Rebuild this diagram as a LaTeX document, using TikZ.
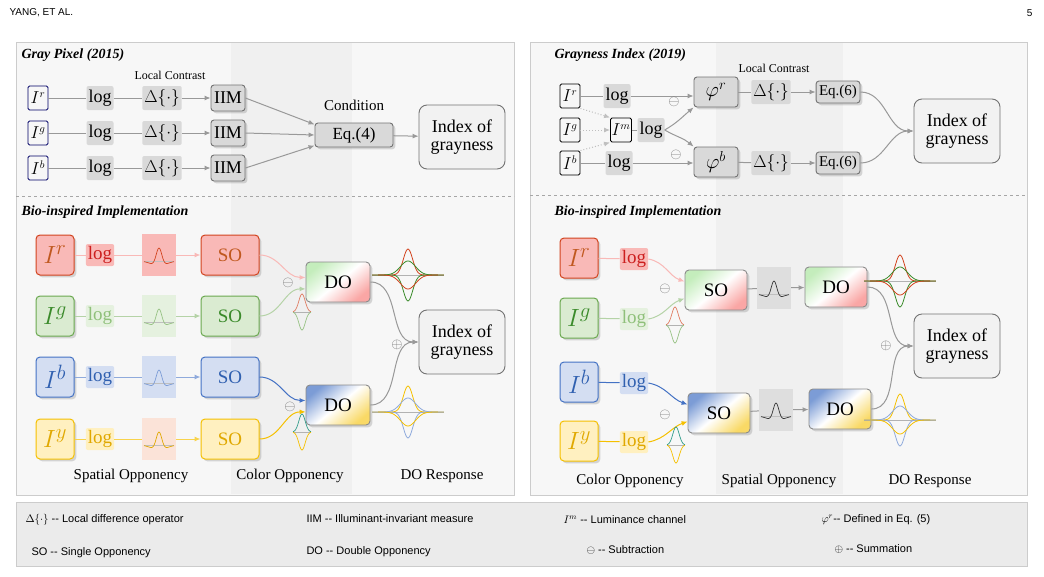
\documentclass[tikz,border=0pt]{standalone}
\usepackage{fontspec}
\setmainfont{Liberation Serif}
\newfontfamily\legfont{Liberation Sans}
\usetikzlibrary{positioning, shapes, calc, arrows.meta, shadows}
\definecolor{rf}{HTML}{F9B9B7}\definecolor{rd}{HTML}{D2431E}\definecolor{rt}{HTML}{C0581F}\definecolor{rl}{HTML}{CC1F1F}
\definecolor{gf}{HTML}{DAEBD1}\definecolor{gd}{HTML}{6AA84F}\definecolor{gt}{HTML}{3A8A2A}\definecolor{gl}{HTML}{8FC07A}
\definecolor{bf}{HTML}{D4DEF2}\definecolor{bd}{HTML}{4472C4}\definecolor{bt}{HTML}{3060B0}
\definecolor{yf}{HTML}{FFF0C0}\definecolor{yd}{HTML}{F5C000}\definecolor{yt}{HTML}{E0A800}
\definecolor{pf}{HTML}{FBE3D8}
\tikzset{
  fs/.style={font=\fontsize{#1}{#1}\selectfont},
  pics/dog/.style={code={
    \draw[black!25, line width=0.6pt] (-15,0) -- (15,0);
    \draw[#1, line width=0.7pt, domain=-1:1, samples=41, smooth] plot ({\x*15},{-(18*exp(-14*\x*\x)-5*exp(-2*\x*\x))});}},
  pics/star/.style 2 args={code={
    \draw[black!30, line width=0.6pt] (-36,0) -- (36,0);
    \draw[#1, line width=0.8pt, domain=-1:1, samples=51, smooth] plot ({\x*36},{-26*exp(-30*\x*\x)});
    \draw[#2, line width=0.8pt, domain=-1:1, samples=51, smooth] plot ({\x*36},{26*exp(-30*\x*\x)});
    \draw[#2, line width=0.8pt, domain=-1:1, samples=51, smooth] plot ({\x*30},{-14*exp(-8*\x*\x)});
    \draw[#1, line width=0.8pt, domain=-1:1, samples=51, smooth] plot ({\x*30},{14*exp(-8*\x*\x)});}},
  pics/bell/.style 2 args={code={
    \draw[black!30, line width=0.5pt] (-9,0) -- (9,0);
    \draw[#1, line width=0.7pt, domain=-1:1, samples=31, smooth] plot ({\x*9},{-18*exp(-4*\x*\x)});
    \draw[#2, line width=0.7pt, domain=-1:1, samples=31, smooth] plot ({\x*9},{18*exp(-4*\x*\x)});}}
}
\begin{document}
\begin{tikzpicture}[x=1pt, y=-1pt,
    panel/.style={draw=black!20, fill=black!3, line width=0.8pt},
    band/.style={fill=black!6, draw=none},
    sep/.style={dashed, black!35, line width=0.7pt},
    ttl/.style={font=\fontsize{14}{14}\selectfont\bfseries\itshape, anchor=west},
    lbl/.style={fs=15},
    chan/.style={draw=#1, rounded corners=1.5pt, line width=0.9pt, minimum width=20, minimum height=24, inner sep=1pt, fs=16},
    op/.style={fill=black!15, rounded corners=2pt, inner sep=2pt, minimum height=24, fs=18},
    blk/.style={draw=black!55, fill=black!15, rounded corners=3pt, line width=0.9pt, minimum height=26, inner sep=3pt, fs=18, drop shadow={opacity=0.3}},
    idx/.style={draw=black!55, fill=black!5, rounded corners=8pt, line width=0.9pt, minimum width=86, minimum height=64, align=center, fs=18},
    big/.style 2 args={draw=#1, fill=#2, rounded corners=4pt, line width=1pt, minimum width=38, minimum height=40, inner sep=0pt, fs=28, drop shadow={opacity=0.3}},
    lg/.style 2 args={fill=#1, text=#2, rounded corners=2pt, minimum height=22, inner sep=2pt, fs=19},
    gbox/.style={fill=#1, minimum width=34, minimum height=42, inner sep=0pt},
    so/.style 2 args={draw=black!45, top color=#1, bottom color=#2, middle color=white, shading angle=40, rounded corners=4pt, line width=0.9pt, minimum width=62, minimum height=40, fs=19, drop shadow={opacity=0.3}},
    cso/.style 2 args={draw=#1, fill=#2, rounded corners=4pt, line width=1pt, minimum width=58, minimum height=40, fs=19, drop shadow={opacity=0.3}},
    ln/.style={#1, line width=1pt},
    arr/.style={-{Latex[length=6pt,width=5pt]}, #1, line width=1pt},
    arr/.default=black!40,
    mk/.style={text=black!55, fs=14}
  ]
  \useasboundingbox (0,0) rectangle (1044,576);
  % header
  \node[anchor=west, font=\legfont\fontsize{10}{10}\selectfont] (hd) at (6,13) {YANG, ET AL.};
  \node[anchor=east, font=\legfont\fontsize{10}{10}\selectfont] (pg) at (1036,13) {5};
  % panels
  \draw[panel] (16,42) rectangle (514,495);
  \fill[band] (231,43) rectangle (352,494);
  \draw[sep] (16,196) -- (514,196);
  \draw[panel] (530,42) rectangle (1027,495);
  \fill[band] (716,43) rectangle (843,494);
  \draw[sep] (530,195) -- (1027,195);
  \draw[panel, fill=black!8] (16,502) rectangle (1027,566);

  % ---------- Gray Pixel (2015)
  \node[ttl] (t1) at (18,55) {Gray Pixel (2015)};
  \node[fs=12] (lc1) at (170,75) {Local Contrast};
  \node[fs=15] (cond) at (354,105) {Condition};
  \foreach \c/\y in {r/98, g/133, b/168}{
    \node[chan=blue!40!black] (i\c) at (38,\y) {$I^{\c}$};
    \node[op] (l\c) at (100,\y) {log};
    \node[op] (d\c) at (162,\y) {$\Delta\{\cdot\}$};
    \node[blk] (m\c) at (228,\y) {IIM};
    \draw[ln=black!40] (i\c) -- (l\c) -- (d\c);
    \draw[arr] (d\c) -- (m\c);
  }
  \node[blk, minimum width=78, fs=17, minimum height=24] (eq4) at (354,135) {Eq.(4)};
  \node[idx] (gi1) at (462,137) {Index of\\grayness};
  \foreach \c/\a in {r/165, g/180, b/195} \draw[arr] (m\c.east) -- (eq4.\a);
  \draw[arr] (eq4) -- (gi1);

  % ---------- Bio-inspired (left)
  \node[ttl] (t2) at (18,212) {Bio-inspired Implementation};
  \foreach \c/\y/\bd/\bf/\bt/\lf/\lt/\gf/\gc/\lk in {
      r/255/rd/rf/rt/rf/rl/rf/rd/rf, g/316/gd/gf/gt/gf!70/gl/gf!70/gd!70/gd!50,
      b/377/bd/bf/bt/bf/bt/bf/bd!70/bd!60, y/439/yd/yf/yt/yf/yt/pf/yt/yd!70}{
    \node[big={\bd}{\bf}, text=\bt] (bi\c) at (55,\y) {$I^{\c}$};
    \node[lg={\lf}{\lt}] (bl\c) at (100,\y) {log};
    \node[gbox=\gf] (bg\c) at (159,\y) {};
    \pic at ($(bg\c)+(0,6)$) {dog=\gc};
    \node[cso={\bd}{\bf}, text=\bt] (bs\c) at (230,\y) {SO};
    \draw[ln=\lk] (bi\c) -- (bl\c) -- (bg\c);
    \draw[arr=\lk] (bg\c) -- (bs\c);
  }
  \node[so={gf!90!green}{rf!90!red}, minimum width=64] (do1) at (338,282) {DO};
  \node[so={bd!70}{yd!60}, minimum width=64] (do2) at (338,405) {DO};
  \draw[arr=rf] (bsr.east) to[out=0, in=180] (do1.172);
  \draw[arr=gd!50] (bsg.east) to[out=0, in=180] (do1.192);
  \draw[arr=bd] (bsb.east) to[out=0, in=180] (do2.172);
  \draw[arr=yd] (bsy.east) to[out=0, in=180] (do2.192);
  \node[mk] (mn1) at (288,283) {$\ominus$};
  \node[mk] (mn2) at (290,407) {$\ominus$};
  \pic at (302,312) {bell={rd!70}{gd!70}};
  \pic at (302,432) {bell={bd!70!green}{yd}};
  \pic at (408,275) {star={rd}{gt}};
  \pic at (408,412) {star={yd}{bd!60}};
  \node[idx] (gi2) at (462,342) {Index of\\grayness};
  \draw[arr] (do1.east) to[out=0, in=180] (gi2.west);
  \draw[arr] (do2.east) to[out=0, in=180] (gi2.west);
  \node[mk] (pl1) at (397,345) {$\oplus$};
  \node[lbl] (c1) at (131,476) {Spatial Opponency};
  \node[lbl] (c2) at (290,476) {Color Opponency};
  \node[lbl] (c3) at (442,476) {DO Response};

  % ---------- Grayness Index (2019)
  \node[ttl] (t3) at (551,55) {Grayness Index (2019)};
  \node[fs=12] (lc2) at (774,68) {Local Contrast};
  \node[chan=black] (jr) at (570,96) {$I^{r}$};
  \node[chan=black] (jg) at (570,130) {$I^{g}$};
  \node[chan=black] (jb) at (570,163) {$I^{b}$};
  \node[chan=black] (jm) at (621,130) {$I^{m}$};
  \node[op] (kr) at (617,96) {log};
  \node[op] (km) at (651,130) {log};
  \node[op] (kb) at (619,163) {log};
  \node[blk, minimum width=44, minimum height=30, fs=20] (phr) at (716,92) {$\varphi^{r}$};
  \node[blk, minimum width=44, minimum height=30, fs=20] (phb) at (716,162) {$\varphi^{b}$};
  \node[op] (dr) at (771,92) {$\Delta\{\cdot\}$};
  \node[op] (db) at (771,163) {$\Delta\{\cdot\}$};
  \node[blk, fs=15, minimum height=22] (er) at (838,92) {Eq.(6)};
  \node[blk, fs=15, minimum height=22] (eb) at (838,163) {Eq.(6)};
  \node[idx] (gi3) at (957,131) {Index of\\grayness};
  \draw[ln=black!40] (jr) -- (kr);
  \draw[ln=black!40] (jb) -- (kb);
  \draw[ln=black!40] (jm) -- (km);
  \draw[arr] (kr) -- (phr.west |- kr);
  \draw[arr] (kb) -- (phb.west |- kb);
  \draw[arr] (km.east) to[out=30, in=220] (phr.south west);
  \draw[arr] (km.east) to[out=-30, in=140] (phb.north west);
  \draw[arr=black!25, dotted] (jr.south east) -- (jm.north west);
  \draw[arr=black!25, dotted] (jg) -- (jm);
  \draw[arr=black!25, dotted] (jb.north east) -- (jm.south west);
  \draw[ln=black!40] (phr) -- (dr);
  \draw[ln=black!40] (phb) -- (db);
  \draw[arr] (dr) -- (er);
  \draw[arr] (db) -- (eb);
  \draw[arr] (er.east) to[out=0, in=180] (gi3.west);
  \draw[arr] (eb.east) to[out=0, in=180] (gi3.west);
  \node[mk] (mn3) at (674,102) {$\ominus$};
  \node[mk] (mn4) at (676,155) {$\ominus$};

  % ---------- Bio-inspired (right)
  \node[ttl] (t4) at (551,212) {Bio-inspired Implementation};
  \foreach \c/\y/\bd/\bf/\bt/\lf/\lt/\lk in {
      r/258/rd/rf/rt/rf/rl/rf, g/318/gd/gf/gt/gf!70/gl/gd!50,
      b/382/bd/bf/bt/bf/bt/bd, y/441/yd/yf/yt/yf/yt/yd}{
    \node[big={\bd}{\bf}, text=\bt] (ri\c) at (579,\y) {$I^{\c}$};
    \node[lg={\lf}{\lt}] (rl\c) at (634,\y+1) {log};
    \draw[ln=\lk] (ri\c) -- (rl\c);
  }
  \node[so={gf!90!green}{rf!90!red}] (so1) at (716,290) {SO};
  \node[so={bd!70}{yd!60}] (so2) at (719,413) {SO};
  \node[gbox=black!13] (rg1) at (774,288) {};
  \node[gbox=black!13] (rg2) at (776,410) {};
  \pic at ($(rg1)+(0,6)$) {dog=black!80};
  \pic at ($(rg2)+(0,6)$) {dog=black!80};
  \node[so={gf!90!green}{rf!90!red}] (do3) at (836,287) {DO};
  \node[so={bd!70}{yd!60}] (do4) at (840,409) {DO};
  \draw[arr=rf] (rlr.east) to[out=-10, in=160] (so1.165);
  \draw[arr=gd!50] (rlg.east) to[out=10, in=200] (so1.195);
  \draw[arr=bd] (rlb.east) to[out=-10, in=160] (so2.165);
  \draw[arr=yd] (rly.east) to[out=10, in=200] (so2.195);
  \draw[ln=black!40] (so1) -- (rg1);
  \draw[ln=black!40] (so2) -- (rg2);
  \draw[arr] (rg1) -- (do3);
  \draw[arr] (rg2) -- (do4);
  \node[mk] (mn5) at (665,289) {$\ominus$};
  \node[mk] (mn6) at (665,415) {$\ominus$};
  \pic at (675,325) {bell={rd!70}{gd!70}};
  \pic at (676,445) {bell={bd!70!green}{yd}};
  \pic at (900,281) {star={rd}{gt}};
  \pic at (900,420) {star={yd}{bd!60}};
  \node[idx] (gi4) at (957,346) {Index of\\grayness};
  \draw[arr] (do3.east) to[out=0, in=180] (gi4.west);
  \draw[arr] (do4.east) to[out=0, in=180] (gi4.west);
  \node[mk] (pl2) at (886,346) {$\oplus$};
  \node[lbl] (c4) at (630,481) {Color Opponency};
  \node[lbl] (c5) at (779,481) {Spatial Opponency};
  \node[lbl] (c6) at (930,481) {DO Response};

  % ---------- legend
  \begin{scope}[every node/.style={anchor=west, font=\legfont\fontsize{11}{11}\selectfont}]
    \node (k1) at (22,520) {$\Delta\{\cdot\}$ -- Local difference operator};
    \node (k2) at (303,519) {IIM -- Illuminant-invariant measure};
    \node (k3) at (560,520) {$I^{m}$ -- Luminance channel};
    \node (k4) at (818,520) {$\varphi^{r}$-- Defined in Eq. (5)};
    \node (k5) at (28,553) {SO -- Single Opponency};
    \node (k6) at (303,552) {DO -- Double Opponency};
    \node (k7) at (583,550) {$\ominus$ -- Subtraction};
    \node (k8) at (831,549) {$\oplus$ -- Summation};
  \end{scope}
\end{tikzpicture}
\end{document}
